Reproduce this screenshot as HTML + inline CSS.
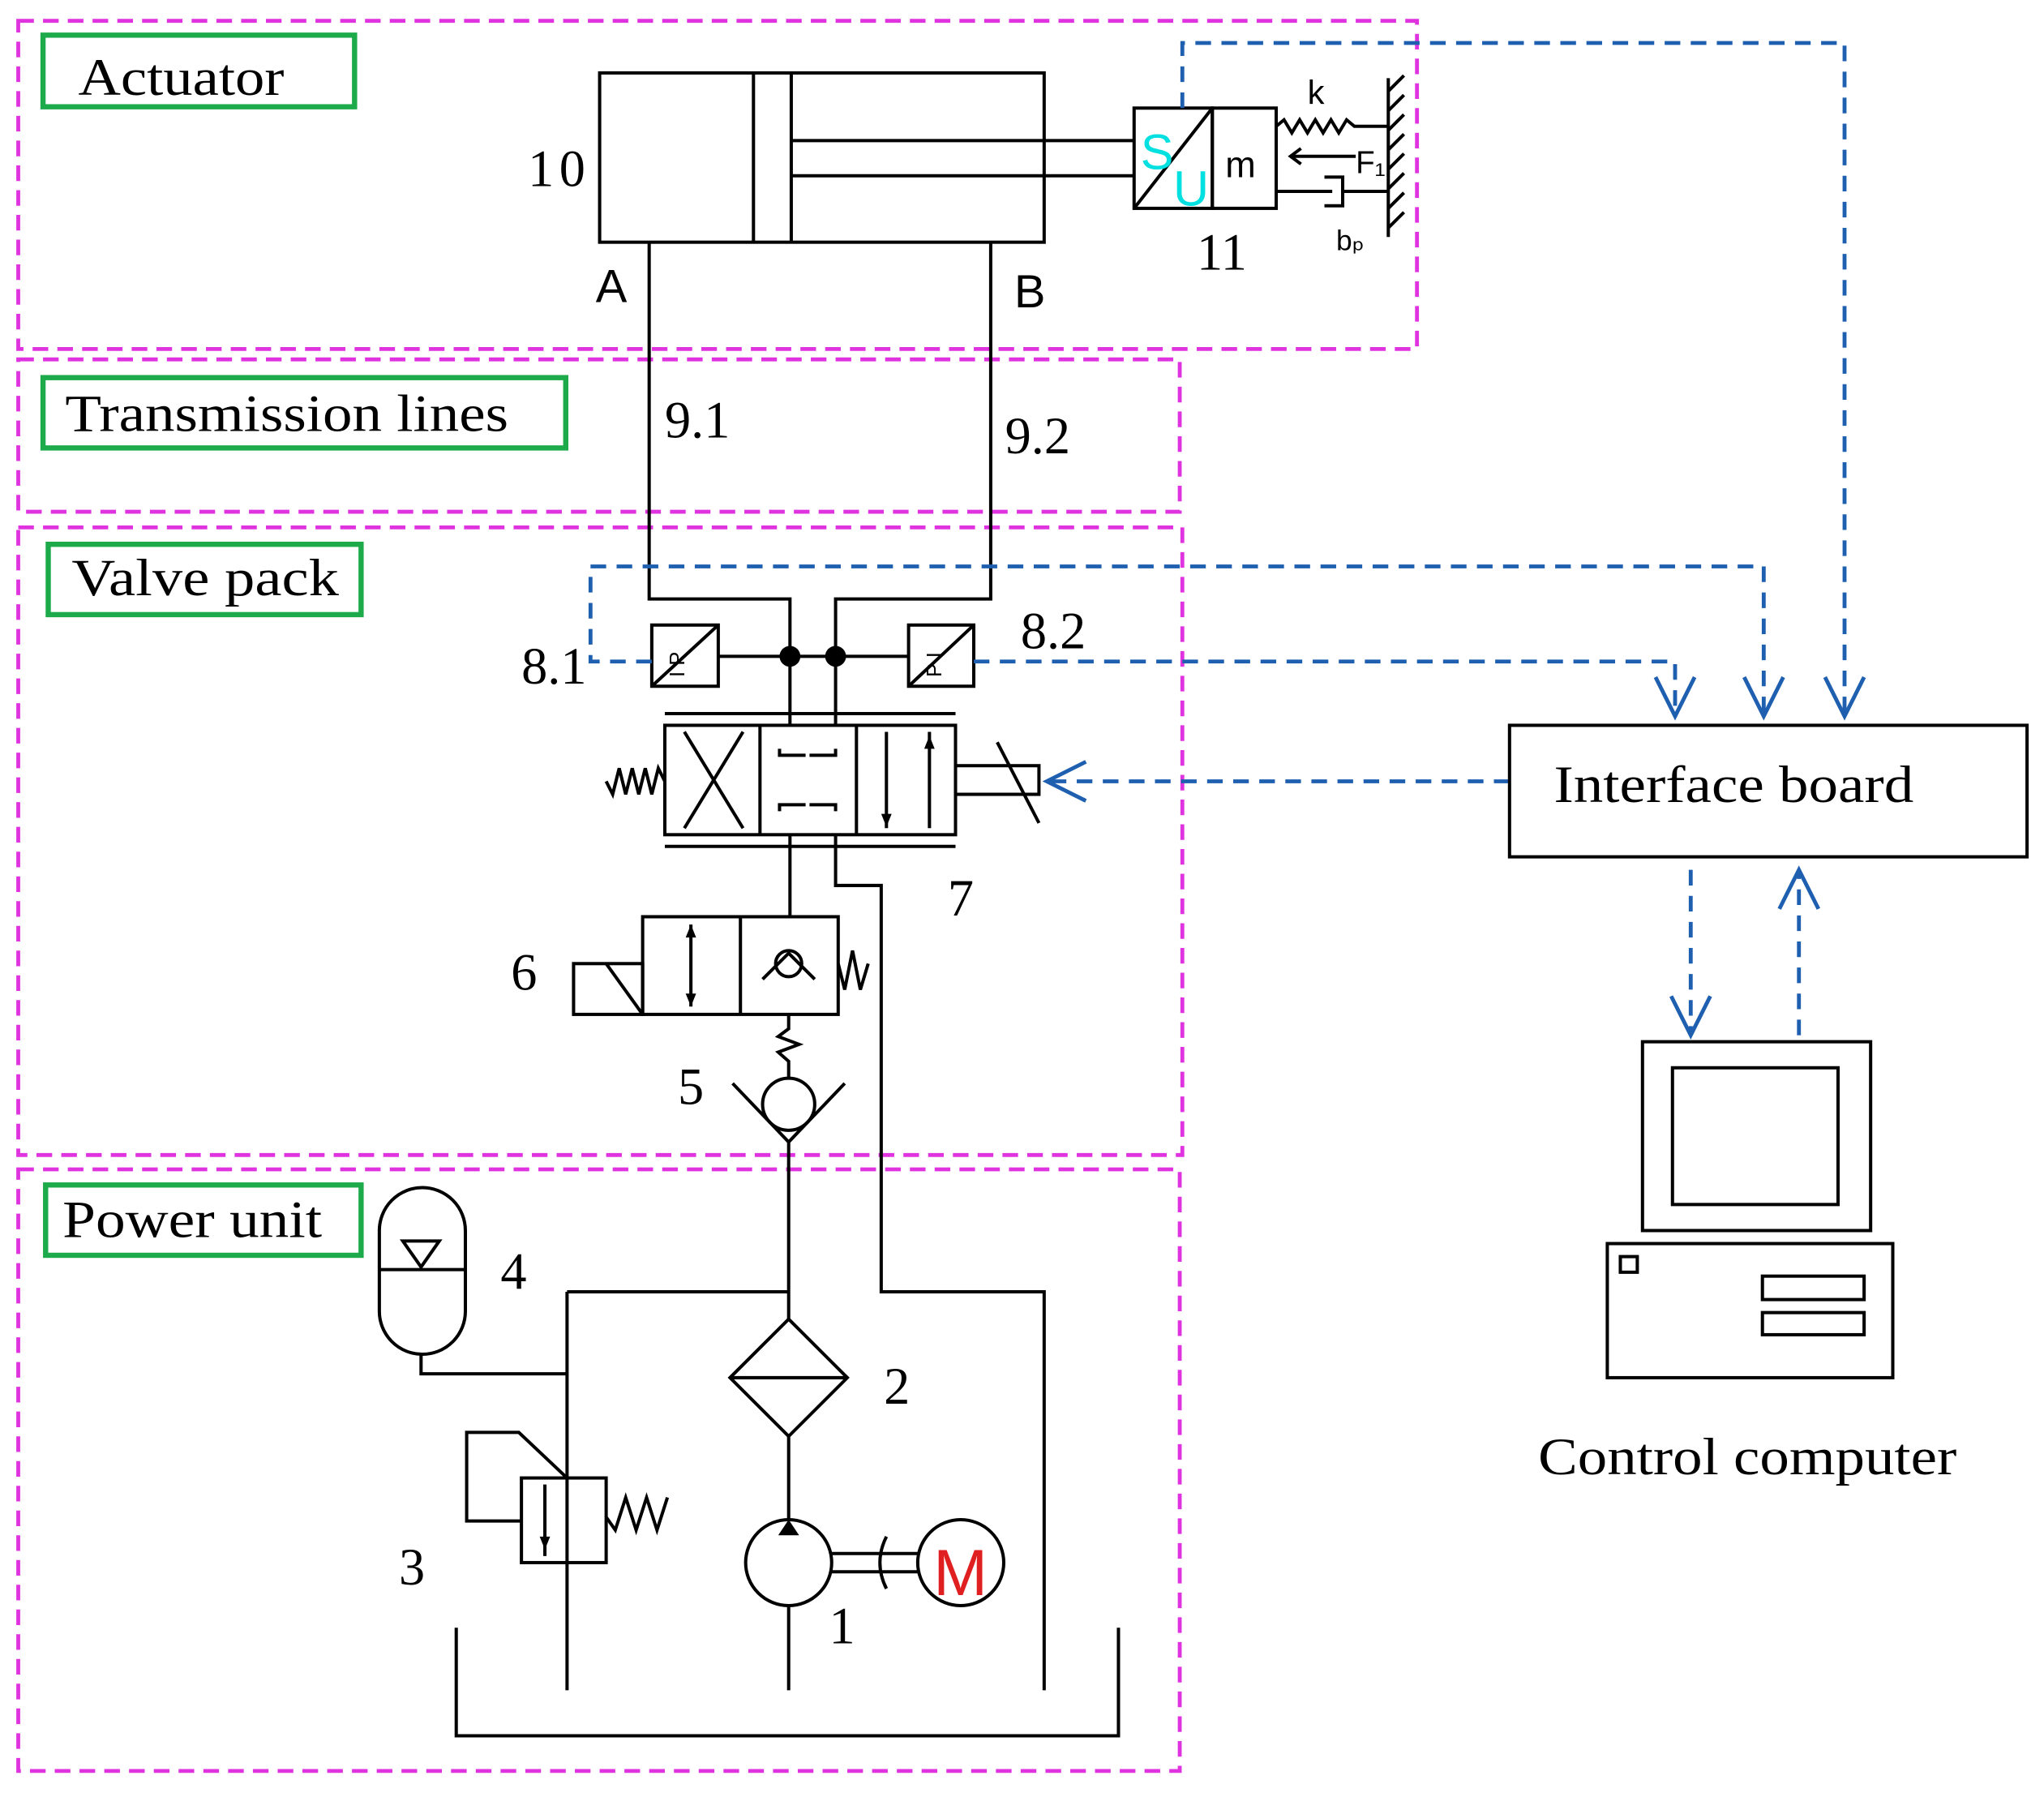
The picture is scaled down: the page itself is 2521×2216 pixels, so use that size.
<!DOCTYPE html>
<html><head><meta charset="utf-8"><style>html,body{margin:0;padding:0;background:#fff}svg{display:block}</style></head>
<body>
<svg width="2521" height="2216" viewBox="0 0 1568 1380" preserveAspectRatio="none" xmlns="http://www.w3.org/2000/svg" font-family="Liberation Serif, serif">
<g fill="none" stroke="#e033e0" stroke-width="3" stroke-dasharray="12,7">
<rect x="14" y="16" width="1073" height="252"/>
<rect x="14" y="276" width="891" height="117"/>
<rect x="14" y="405" width="893" height="482"/>
<rect x="14" y="898" width="891" height="462"/>
</g>
<g fill="none" stroke="#1daa4a" stroke-width="4">
<rect x="33" y="27" width="239" height="55"/>
<rect x="33" y="290" width="401" height="54"/>
<rect x="37" y="418" width="240" height="54"/>
<rect x="35" y="910" width="242" height="54"/>
</g>
<g font-size="40" fill="#000">
<text x="60" y="73" textLength="158" lengthAdjust="spacingAndGlyphs">Actuator</text>
<text x="50" y="331" textLength="340" lengthAdjust="spacingAndGlyphs">Transmission lines</text>
<text x="55" y="457" textLength="205" lengthAdjust="spacingAndGlyphs">Valve pack</text>
<text x="48" y="950" textLength="199" lengthAdjust="spacingAndGlyphs">Power unit</text>
<text x="1192" y="616" textLength="276" lengthAdjust="spacingAndGlyphs">Interface board</text>
<text x="1180" y="1132" textLength="321" lengthAdjust="spacingAndGlyphs">Control computer</text>
<text x="405" y="143" textLength="44">10</text>
<text x="918" y="207">11</text>
<text x="510" y="336">9.1</text>
<text x="771" y="348">9.2</text>
<text x="400" y="525">8.1</text>
<text x="783" y="498">8.2</text>
<text x="727" y="703">7</text>
<text x="392" y="760">6</text>
<text x="520" y="848">5</text>
<text x="384" y="990">4</text>
<text x="306" y="1217">3</text>
<text x="678" y="1078">2</text>
<text x="636" y="1262">1</text>
</g>
<g font-family="Liberation Sans, sans-serif" font-size="36" fill="#000">
<text x="457" y="232">A</text><text x="778" y="236">B</text>
<text x="940" y="136" font-size="28">m</text>
<text x="1003" y="80" font-size="26">k</text>
<text x="1040" y="133" font-size="24">F₁</text>
<text x="1025" y="192" font-size="22">bₚ</text>
</g>
<g fill="none" stroke="#000" stroke-width="2.5">
<rect x="460" y="56" width="341" height="130"/>
<line x1="578" y1="56" x2="578" y2="186"/><line x1="607" y1="56" x2="607" y2="186"/>
<line x1="607" y1="108" x2="870" y2="108"/><line x1="607" y1="135" x2="870" y2="135"/>
<rect x="870" y="83" width="60" height="77"/><rect x="930" y="83" width="49" height="77"/>
<line x1="870" y1="160" x2="930" y2="83"/>
<polyline points="979,97 985,92 991,102 997,92 1003,102 1009,92 1015,102 1021,92 1027,102 1033,92 1039,97 1065,97"/>
<line x1="1065" y1="60" x2="1065" y2="182"/>
<path d="M1065 70l12-12M1065 85l12-12M1065 100l12-12M1065 115l12-12M1065 130l12-12M1065 145l12-12M1065 160l12-12M1065 175l12-12"/>
<line x1="1040" y1="120" x2="990" y2="120"/><path d="M998 114l-8 6 8 6"/>
<line x1="979" y1="147" x2="1022" y2="147"/><path d="M1016 136h14v22h-14"/><line x1="1030" y1="147" x2="1065" y2="147"/>
<polyline points="498,186 498,460 606,460 606,557"/>
<polyline points="760,186 760,460 641,460 641,557"/>
<line x1="551" y1="504" x2="697" y2="504"/>
<rect x="500" y="480" width="51" height="47"/><line x1="500" y1="527" x2="551" y2="480"/>
<rect x="697" y="480" width="50" height="47"/><line x1="697" y1="527" x2="747" y2="480"/>
<line x1="510" y1="548" x2="733" y2="548"/><line x1="510" y1="650" x2="733" y2="650"/>
<rect x="510" y="557" width="223" height="84"/>
<line x1="583" y1="557" x2="583" y2="641"/><line x1="657" y1="557" x2="657" y2="641"/>
<line x1="525" y1="562" x2="570" y2="636"/><line x1="525" y1="636" x2="570" y2="562"/>
<path d="M598 575v5h20M641 575v5h-20M598 623v-5h20M641 623v-5h-20"/>
<line x1="680" y1="562" x2="680" y2="636"/><line x1="713" y1="562" x2="713" y2="636"/>
<rect x="733" y="588" width="64" height="22"/><line x1="765" y1="570" x2="797" y2="632"/>
<polyline points="510,600 505,590 500,610 495,590 490,610 485,590 480,610 475,590 470,610 465,600"/>
<line x1="606" y1="641" x2="606" y2="704"/>
<polyline points="641,641 641,680 676,680 676,992 801,992 801,1298"/>
<rect x="493" y="704" width="150" height="75"/><line x1="568" y1="704" x2="568" y2="779"/>
<rect x="440" y="740" width="53" height="39"/><line x1="465" y1="740" x2="493" y2="779"/>
<line x1="530" y1="710" x2="530" y2="773"/>
<circle cx="605" cy="740" r="10"/><path d="M585 752l20-20 20 20"/>
<polyline points="643,740 648,760 654,730 660,760 666,740"/>
<polyline points="605,779 605,790 597,796 613,802 597,808 605,815 605,828"/>
<circle cx="605" cy="848" r="20"/><path d="M562 832l43 45 43-45"/>
<line x1="605" y1="877" x2="605" y2="1013"/>
<line x1="435" y1="992" x2="605" y2="992"/>
<path d="M605 1013l45 45-45 45-45-45z"/><line x1="560" y1="1058" x2="650" y2="1058"/>
<line x1="605" y1="1103" x2="605" y2="1167"/>
<circle cx="605" cy="1200" r="33"/><line x1="605" y1="1233" x2="605" y2="1298"/>
<line x1="638" y1="1193" x2="704" y2="1193"/><line x1="638" y1="1207" x2="704" y2="1207"/>
<path d="M680 1180q-10 20 0 40"/>
<circle cx="737" cy="1200" r="33"/>
<rect x="291" y="912" width="66" height="128" rx="33"/>
<line x1="291" y1="975" x2="357" y2="975"/><path d="M309 953h28l-14 20z"/>
<polyline points="323,1040 323,1055 435,1055"/>
<line x1="435" y1="992" x2="435" y2="1298"/>
<rect x="400" y="1135" width="65" height="65"/>
<polyline points="400,1168 358,1168 358,1100 398,1100 435,1135"/>
<line x1="418" y1="1140" x2="418" y2="1195"/>
<polyline points="465,1165 472,1175 480,1150 488,1175 496,1150 504,1175 512,1150"/>
<polyline points="350,1250 350,1333 858,1333 858,1250"/>
</g>
<g fill="#000">
<circle cx="606" cy="504" r="8"/><circle cx="641" cy="504" r="8"/>
<path d="M605 1167l-8 12h16z"/><path d="M526 720l4-10 4 10zM526 763l4 10 4-10z"/><path d="M676 625l4 10 4-10zM709 575l4-10 4 10z"/><path d="M414 1180l4 10 4-10z"/>
</g>
<text x="875" y="130" font-family="Liberation Sans, sans-serif" font-size="38" fill="#00e0e0">S</text>
<text x="900" y="158" font-family="Liberation Sans, sans-serif" font-size="38" fill="#00e0e0">U</text>
<text x="716" y="1225" font-family="Liberation Sans, sans-serif" font-size="50" fill="#e02020">M</text>
<text x="505" y="520" font-family="Liberation Sans, sans-serif" font-size="16" transform="rotate(-90 515 510)">I P</text>
<text x="702" y="520" font-family="Liberation Sans, sans-serif" font-size="16" transform="rotate(-90 712 510)">P I</text>
<g fill="none" stroke="#1f5fb0" stroke-width="3" stroke-dasharray="12,8">
<polyline points="907,83 907,33 1415,33 1415,550"/>
<polyline points="500,508 453,508 453,435 1353,435 1353,550"/>
<polyline points="747,508 1285,508 1285,550"/>
<line x1="1158" y1="600" x2="803" y2="600"/>
<line x1="1297" y1="668" x2="1297" y2="795"/>
<line x1="1380" y1="795" x2="1380" y2="668"/>
</g>
<g fill="none" stroke="#1f5fb0" stroke-width="3">
<path d="M1270 520l15 30 15-30M1338 520l15 30 15-30M1400 520l15 30 15-30"/>
<path d="M833 585l-30 15 30 15"/>
<path d="M1282 765l15 30 15-30M1365 698l15-30 15 30"/>
</g>
<g fill="none" stroke="#000" stroke-width="2.5">
<rect x="1158" y="557" width="397" height="101"/>
<rect x="1260" y="800" width="175" height="145"/><rect x="1283" y="820" width="127" height="105"/>
<rect x="1233" y="955" width="219" height="103"/>
<rect x="1352" y="980" width="78" height="18"/><rect x="1352" y="1008" width="78" height="17"/>
<rect x="1243" y="965" width="13" height="12"/>
</g>
</svg>
</body></html>
